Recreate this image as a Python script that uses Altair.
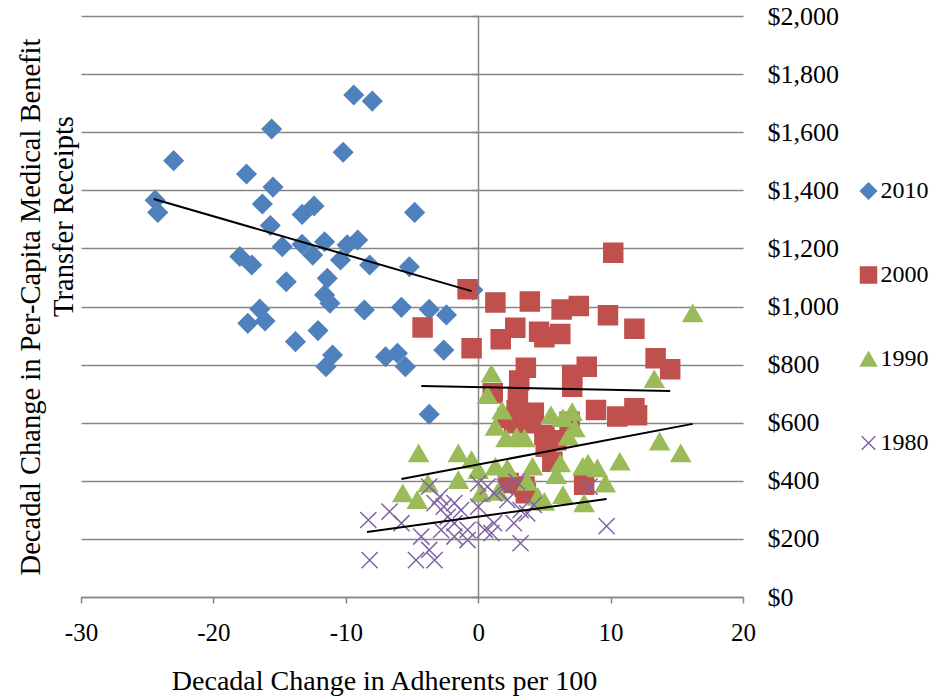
import altair as alt
import pandas as pd

years = ["2010", "2000", "1990", "1980"]

x_2010 = [-23.0, -24.4, -24.2, -15.6, -17.5, -15.5, -16.3, -15.7, -13.3, -12.4,
          -14.8, -13.3, -18.0, -17.1, -14.5, -16.5, -17.4, -16.1, -13.8, -12.1,
          -9.4, -8.0, -10.2, -4.8, -11.6, -9.9, -9.1, -12.5, -10.4, -8.2,
          -5.2, -11.4, -11.6, -11.2, -8.6, -5.8, -3.7, -2.4, -0.4, -11.0,
          -11.5, -7.0, -6.1, -5.5, -2.6, -3.7]
y_2010 = [1502, 1366, 1324, 1611, 1456, 1411, 1353, 1279, 1317, 1346,
          1206, 1214, 1172, 1143, 1085, 991, 942, 950, 879, 917,
          1728, 1707, 1531, 1324, 1223, 1212, 1229, 1177, 1160, 1143,
          1137, 1097, 1040, 1011, 988, 997, 990, 971, 1057, 833,
          793, 827, 839, 793, 850, 629]

x_2000 = [10.2, -0.8, 1.3, 3.9, 6.3, 7.6, 9.8, 11.8, -4.2, 2.8,
          1.7, 4.6, 5.0, 6.2, -0.5, 13.4, 14.5, 3.6, 3.1, 7.1,
          8.2, 7.1, 1.1, 3.0, 2.9, 4.2, 8.9, 10.5, 11.8, 12.0,
          2.7, 4.0, 6.9, 2.2, 5.0, 5.9, 5.1, 5.6, 8.0, 3.5,
          2.3, 3.6]
y_2000 = [1185, 1059, 1014, 1017, 990, 1002, 970, 923, 928, 927,
          887, 913, 894, 905, 856, 822, 784, 789, 745, 764,
          793, 724, 701, 690, 644, 634, 644, 621, 650, 626,
          598, 598, 603, 616, 558, 540, 517, 466, 386, 380,
          392, 357]

x_1990 = [16.2, 13.3, 1.0, 0.7, 1.8, 1.3, 2.1, 2.9, 3.5, 5.5,
          6.4, 7.1, 7.3, 6.8, 13.7, 15.3, 10.7, 7.9, 8.3, 9.0,
          9.6, 6.2, 5.9, 4.1, 2.2, 1.3, 3.7, 6.4, 8.0, 5.0,
          -4.5, -1.5, -0.5, 0.0, -1.5, -5.7, -4.6, -3.8, 0.2, 1.5,
          4.5]
y_1990 = [977, 750, 769, 695, 642, 586, 546, 552, 546, 626,
          616, 637, 581, 552, 535, 495, 466, 449, 460, 443,
          391, 460, 420, 449, 443, 449, 397, 351, 323, 328,
          495, 495, 472, 437, 403, 357, 334, 391, 357, 362,
          345]

x_1980 = [-8.3, -6.7, -5.8, -8.2, -4.7, -3.7, -3.3, -4.3, -3.7, -2.9,
          -2.6, -2.3, -1.8, -1.3, -0.8, 0.0, 0.7, 1.2, 2.0, 2.9,
          2.2, 3.2, 2.7, 3.2, 1.2, 0.5, -0.8, -1.8, -2.8, -1.8,
          0.0, -3.3, 8.4, 9.7, 4.2, 1.0, 3.7]
y_1980 = [265, 294, 254, 127, 127, 162, 127, 208, 380, 345,
          311, 276, 254, 299, 231, 391, 380, 357, 380, 397,
          334, 299, 254, 185, 254, 231, 196, 208, 231, 323,
          311, 323, 380, 244, 317, 220, 288]

# linear trendline end points (start x, start y, end x, end y)
trend_x1 = [-24.5, -4.3, -5.8, -8.4]
trend_y1 = [1370, 726, 406, 224]
trend_x2 = [-0.5, 14.5, 16.2, 9.7]
trend_y2 = [1053, 709, 596, 337]

x_ticks = [-30, -20, -10, 0, 10, 20]
y_ticks = [0, 200, 400, 600, 800, 1000, 1200, 1400, 1600, 1800, 2000]

y_title_1 = "Decadal Change in Per-Capita Medical Benefit"
y_title_2 = "Transfer Receipts"
x_title = "Decadal Change in Adherents per 100"

rows = []
for yr, xs, ys in zip(years, [x_2010, x_2000, x_1990, x_1980],
                      [y_2010, y_2000, y_1990, y_1980]):
    for a, b in zip(xs, ys):
        rows.append({"year": yr, "x": a, "y": b})
df = pd.DataFrame(rows)

trend_rows = []
for yr, a1, b1, a2, b2 in zip(years, trend_x1, trend_y1, trend_x2, trend_y2):
    trend_rows.append({"year": yr, "x": a1, "y": b1})
    trend_rows.append({"year": yr, "x": a2, "y": b2})
tdf = pd.DataFrame(trend_rows)

FONT = "Liberation Serif"
GRAY = "#868686"
colors = ["#4F81BD", "#C0504D", "#9BBB59", "#8064A2"]
fills = ["#4F81BD", "#C0504D", "#9BBB59", "transparent"]
cross = "M-0.85,-0.85L0.85,0.85M-0.85,0.85L0.85,-0.85"
shapes = ["diamond", "square", "triangle-up", cross]

xscale = alt.Scale(domain=[-30, 20], nice=False, zero=False)
yscale = alt.Scale(domain=[0, 2000], nice=False, zero=True)

legend = alt.Legend(
    title=None, orient="none", legendX=775.5, legendY=163, direction="vertical",
    labelFont=FONT, labelFontSize=24, labelColor="black", labelOffset=0,
    symbolSize=256, symbolStrokeWidth=1.5, rowPadding=60, padding=0,
)

x_axis = alt.Axis(
    orient="bottom", values=x_ticks, domain=True, domainColor=GRAY, domainWidth=1.5,
    ticks=True, tickColor=GRAY, tickSize=6, tickWidth=1.5,
    labelFont=FONT, labelFontSize=25, labelColor="black", labelPadding=37,
    labelBaseline="alphabetic", labelFlush=False, labelExpr="'' + datum.value",
    grid=False,
    title=x_title, titleFont=FONT, titleFontSize=28,
    titleFontWeight="normal", titleColor="black", titleX=303, titleY=92,
    titleAlign="center", titleBaseline="alphabetic",
)

right_axis = alt.Axis(
    orient="right", values=y_ticks, domain=False, ticks=False,
    labelFont=FONT, labelFontSize=26, labelColor="black", labelAlign="left",
    labelBaseline="middle", labelPadding=24, format="$,.0f",
    grid=True, gridColor=GRAY, gridWidth=1.5,
    title=y_title_2, titleFont=FONT, titleFontSize=28.5, titleFontWeight="normal",
    titleColor="black", titleX=-680, titleY=200, titleAngle=270,
    titleAlign="center", titleBaseline="middle",
)

left_axis = alt.Axis(
    orient="left", offset=-397, values=y_ticks, domain=True, domainColor=GRAY,
    domainWidth=1.5, ticks=True, tickColor=GRAY, tickSize=6, tickWidth=1.5,
    labels=False, grid=False,
    title=y_title_1, titleFont=FONT, titleFontSize=28.5, titleFontWeight="normal",
    titleColor="black", titleX=-448, titleY=290.5, titleAngle=270,
    titleAlign="center", titleBaseline="middle",
)

points = alt.Chart(df).mark_point(filled=True, size=361, strokeWidth=1.5, opacity=1).encode(
    x=alt.X("x:Q", scale=xscale, axis=x_axis),
    y=alt.Y("y:Q", scale=yscale, axis=right_axis),
    fill=alt.Fill("year:N", scale=alt.Scale(domain=years, range=fills), legend=legend),
    stroke=alt.Stroke("year:N", scale=alt.Scale(domain=years, range=colors), legend=legend),
    shape=alt.Shape("year:N", scale=alt.Scale(domain=years, range=shapes), legend=legend),
)

trend = alt.Chart(tdf).mark_line(color="black", strokeWidth=2).encode(
    x=alt.X("x:Q", scale=xscale, axis=x_axis),
    y=alt.Y("y:Q", scale=yscale, axis=left_axis),
    detail="year:N",
)

chart = alt.layer(points, trend).resolve_axis(y="independent").properties(
    width=662, height=581,
    autosize=alt.AutoSizeParams(type="none"),
    padding={"left": 73, "top": 8, "right": 187, "bottom": 100},
).configure_view(stroke=None)

chart.save("out.html", embed_options={"renderer": "svg", "actions": False})
